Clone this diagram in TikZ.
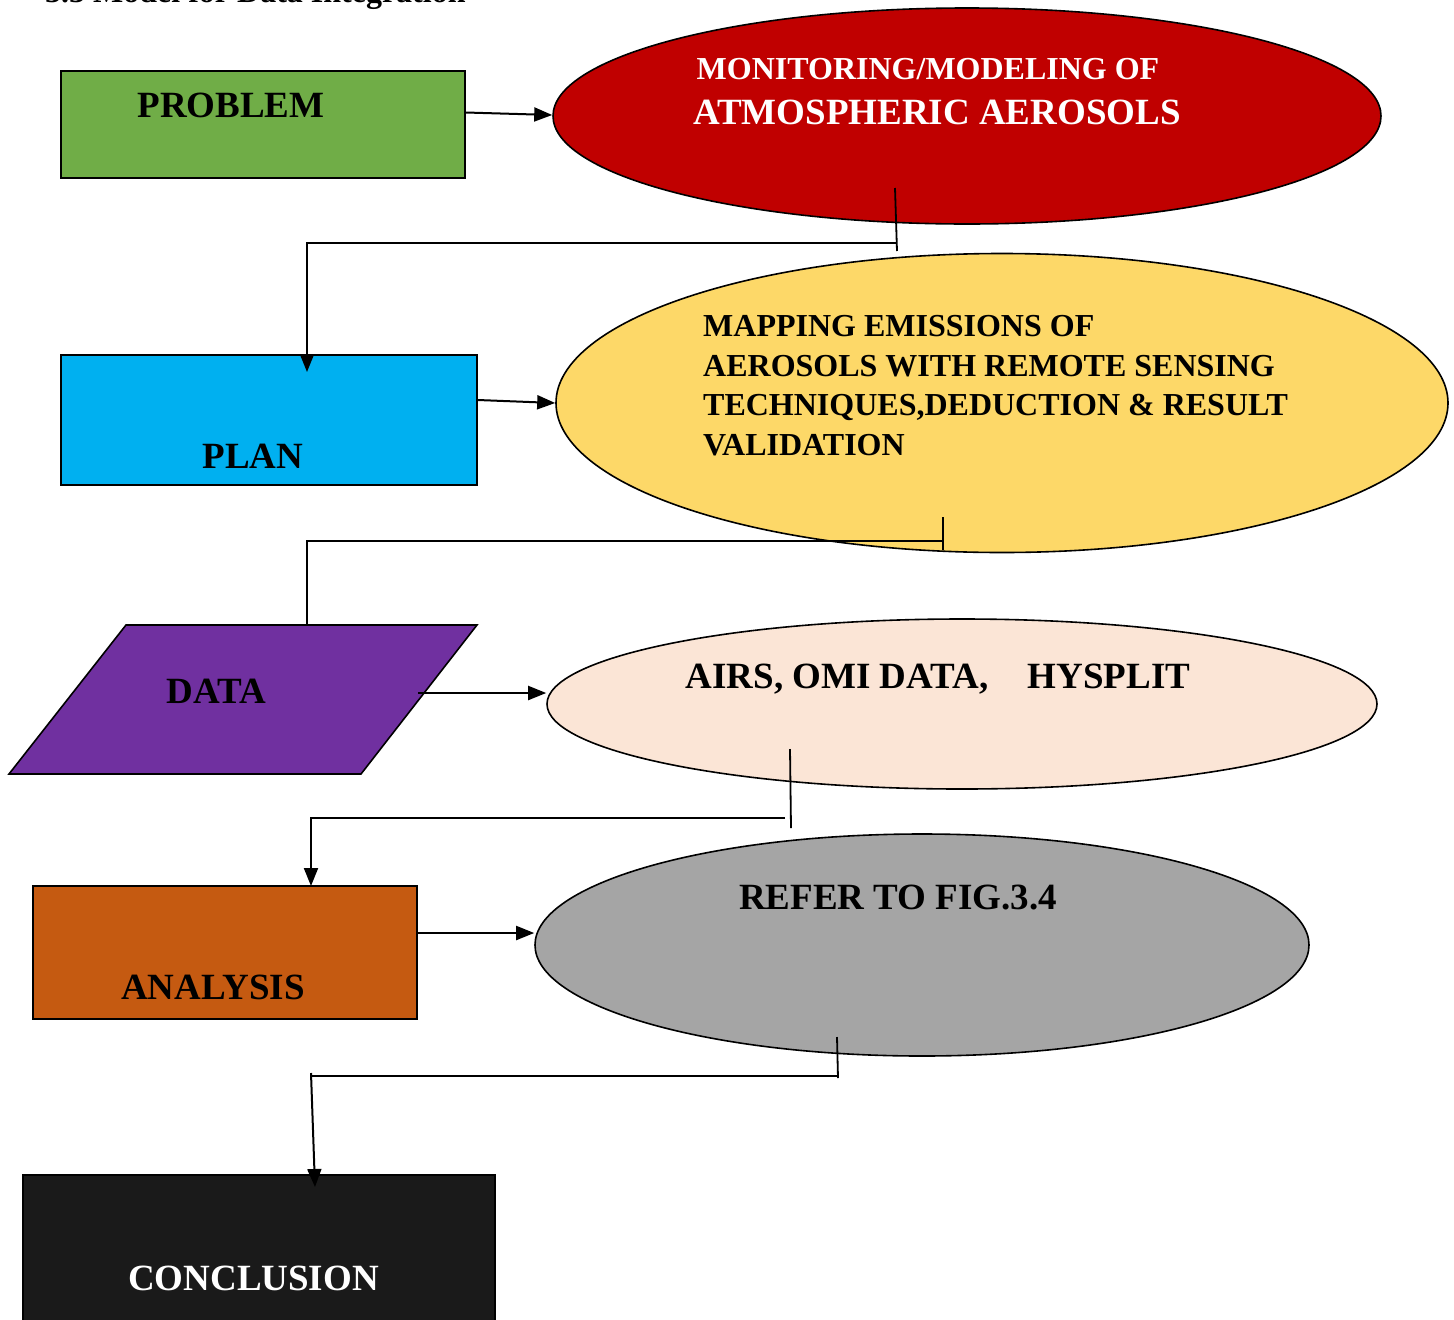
\documentclass[tikz,border=0pt]{standalone}
\usepackage{fontspec}
\setmainfont{Liberation Serif}
\usetikzlibrary{shapes.geometric,arrows.meta}
\definecolor{cgreen}{HTML}{70AD47}
\definecolor{cred}{HTML}{C00000}
\definecolor{cblue}{HTML}{00B0F0}
\definecolor{cyellow}{HTML}{FDD868}
\definecolor{cpurple}{HTML}{7030A0}
\definecolor{cpeach}{HTML}{FBE5D6}
\definecolor{corange}{HTML}{C55A11}
\definecolor{cgrey}{HTML}{A5A5A5}
\definecolor{cblack}{HTML}{1A1A1A}
\begin{document}
\begin{tikzpicture}[x=1pt,y=-1pt,
  box/.style={draw=black,line width=1.6pt,inner sep=0pt},
  oval/.style={ellipse,draw=black,line width=1.6pt,inner sep=0pt},
  lbl/.style={font=\bfseries\fontsize{37}{44}\selectfont,inner sep=0pt,anchor=base},
  slbl/.style={font=\bfseries\fontsize{32}{39}\selectfont,inner sep=0pt,anchor=base west},
  arr/.style={line width=2pt,-{Triangle[length=18pt,width=14pt]}},
  ln/.style={line width=1.8pt}]
\useasboundingbox (0,0) rectangle (1454,1320);
\clip (0,0) rectangle (1454,1320);

% title (cut at top)
\node[font=\bfseries\fontsize{32}{39}\selectfont,inner sep=0pt,anchor=base west] (title) at (45,2) {3.3 Model for Data Integration};

% PROBLEM
\node[box,fill=cgreen,minimum width=404pt,minimum height=107pt] (problem) at (263,124.5) {};
\node[lbl] (problemtxt) at (231,117) {PROBLEM};

% red ellipse
\node[oval,fill=cred,minimum width=828pt,minimum height=216pt] (mon) at (967,116) {};
\node[font=\bfseries\fontsize{32}{39}\selectfont,inner sep=0pt,anchor=base,text=white] (montxt1) at (928,79) {MONITORING/MODELING OF};
\node[lbl,text=white] (montxt2) at (937,124) {ATMOSPHERIC AEROSOLS};

% PLAN
\node[box,fill=cblue,minimum width=416pt,minimum height=130pt] (plan) at (269,420) {};
\node[lbl] (plantxt) at (253,468) {PLAN};

% yellow ellipse
\node[oval,fill=cyellow,minimum width=892pt,minimum height=299pt] (yellow) at (1002,403) {};
\node[slbl] (ytxt1) at (703,336) {MAPPING EMISSIONS OF};
\node[slbl] (ytxt2) at (703,376) {AEROSOLS WITH REMOTE SENSING};
\node[slbl] (ytxt3) at (703,415) {TECHNIQUES,DEDUCTION \& RESULT};
\node[slbl] (ytxt4) at (703,455) {VALIDATION};

% DATA parallelogram
\path[draw=black,line width=1.6pt,fill=cpurple] (126,625) -- (477,625) -- (361,774) -- (9,774) -- cycle;
\coordinate (datatop) at (307,625);
\coordinate (dataE) at (418,693);
\node[lbl] (datatxt) at (216.5,703) {DATA};

% peach ellipse
\node[oval,fill=cpeach,minimum width=830pt,minimum height=170pt] (peach) at (962,704) {};
\node[lbl] (peachtxt) at (938,688) {AIRS, OMI DATA,\hspace{30pt} HYSPLIT};

% ANALYSIS
\node[box,fill=corange,minimum width=384pt,minimum height=133pt] (analysis) at (225,952.5) {};
\node[lbl] (analysistxt) at (213,999) {ANALYSIS};

% grey ellipse
\node[oval,fill=cgrey,minimum width=774pt,minimum height=222pt] (grey) at (922,945) {};
\node[lbl] (greytxt) at (898,909) {REFER TO FIG.3.4};

% CONCLUSION
\node[box,fill=cblack,minimum width=472pt,minimum height=170pt] (concl) at (259,1260) {};
\node[lbl,text=white] (concltxt) at (253.5,1290) {CONCLUSION};

% connectors
\draw[arr] ([yshift=12pt]problem.east) -- ([yshift=1pt]mon.west);

\coordinate (t1a) at (895,188);
\coordinate (t1b) at (897,251);
\coordinate (t1c) at (896,243);
\coordinate (plantip) at (307,372);
\draw[ln] (t1a) -- (t1b);
\draw[arr] (t1c) -- (t1c -| plantip) -- (plantip);

\draw[arr] ([yshift=20pt]plan.east) -- (yellow.west);

\coordinate (t2a) at (943,517);
\coordinate (t2b) at (943,550);
\coordinate (t2c) at (943,541);
\draw[ln] (t2a) -- (t2b);
\draw[ln] (t2c) -- (t2c -| datatop) -- (datatop);
\draw[ln] ([xshift=-7pt]datatop) -- ([xshift=7pt]datatop);

\draw[arr] (dataE) -- (dataE -| peach.west);

\coordinate (t3a) at (790,749);
\coordinate (t3b) at (791,828);
\coordinate (t3c) at (785,818);
\coordinate (antip) at (311,886);
\draw[ln] (t3a) -- (t3b);
\draw[arr] (t3c) -- (t3c -| antip) -- (antip);

\draw[arr] ([yshift=19.5pt]analysis.east) -- ([yshift=19.5pt]analysis.east -| grey.west);

\coordinate (t4a) at (837,1037);
\coordinate (t4b) at (838,1078);
\coordinate (t4c) at (837,1076);
\coordinate (t4d) at (310,1076);
\coordinate (t4e) at (311,1073);
\coordinate (conctip) at (315,1187);
\draw[ln] (t4a) -- (t4b);
\draw[ln] (t4c) -- (t4d);
\draw[arr] (t4e) -- (conctip);
\end{tikzpicture}
\end{document}
